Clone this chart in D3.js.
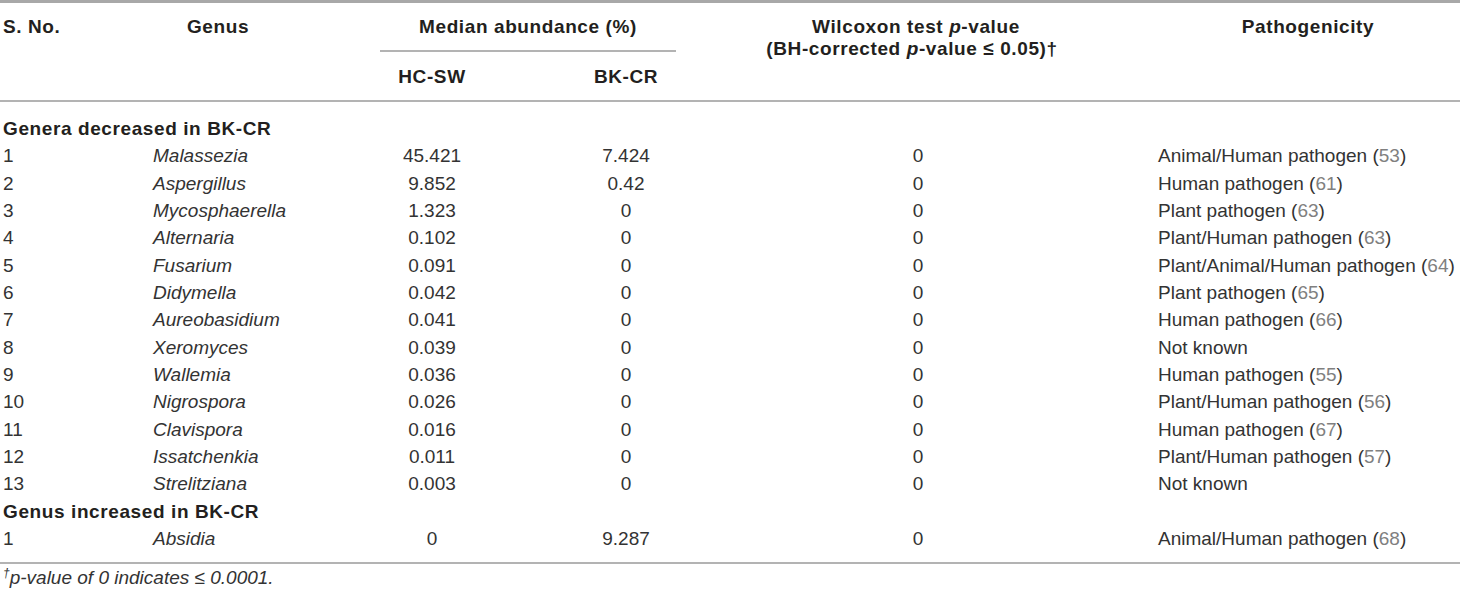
<!DOCTYPE html>
<html>
<head>
<meta charset="utf-8">
<script src="https://cdn.jsdelivr.net/npm/d3@7"></script>
<style>
  body { margin: 0; background: #fff; }
  svg { display: block; font-family: "Liberation Sans", Arial, sans-serif; }
  .hd { font-weight: bold; fill: #231f20; font-size: 19px; letter-spacing: 0.6px; }
  .cell { fill: #333; font-size: 19px; }
  .rule { stroke: #9a9a9a; stroke-width: 1.5; }
</style>
</head>
<body>
<div id="chart"></div>
<script>
// table data
const sNo = ["1","2","3","4","5","6","7","8","9","10","11","12","13","1"];
const genus = ["Malassezia","Aspergillus","Mycosphaerella","Alternaria","Fusarium","Didymella",
  "Aureobasidium","Xeromyces","Wallemia","Nigrospora","Clavispora","Issatchenkia","Strelitziana","Absidia"];
const hcSW = ["45.421","9.852","1.323","0.102","0.091","0.042","0.041","0.039","0.036","0.026","0.016","0.011","0.003","0"];
const bkCR = ["7.424","0.42","0","0","0","0","0","0","0","0","0","0","0","9.287"];
const pValue = ["0","0","0","0","0","0","0","0","0","0","0","0","0","0"];
const pathogenicity = ["Animal/Human pathogen","Human pathogen","Plant pathogen","Plant/Human pathogen",
  "Plant/Animal/Human pathogen","Plant pathogen","Human pathogen","Not known","Human pathogen",
  "Plant/Human pathogen","Human pathogen","Plant/Human pathogen","Not known","Animal/Human pathogen"];
const refs = ["53","61","63","63","64","65","66","","55","56","67","57","","68"];
const sections = ["Genera decreased in BK-CR","Genus increased in BK-CR"];
const sectionStart = [0, 13]; // section header goes before these row indices

const W = 1460, H = 594;
const svg = d3.select("#chart").append("svg").attr("width", W).attr("height", H);
svg.append("rect").attr("width", W).attr("height", H).attr("fill", "#fff");

// build line order: section headers interleaved with data rows
const lines = [];
sNo.forEach((d, i) => {
  const s = sectionStart.indexOf(i);
  if (s >= 0) lines.push({type: "section", key: "s" + s, label: sections[s]});
  lines.push({type: "row", key: "r" + i, i: i});
});

const y = d3.scalePoint().domain(lines.map(d => d.key)).range([135, 545]);

const col = {sno: 3, genus: 153, genusHd: 218, hc: 432, bk: 626, p: 916, path: 1158, pathHd: 1308};

// rules
svg.append("line").attr("x1", 0).attr("x2", W).attr("y1", 1.5).attr("y2", 1.5)
  .attr("stroke", "#a8a8a8").attr("stroke-width", 3);
svg.append("line").attr("class", "rule").attr("x1", 380).attr("x2", 676).attr("y1", 51).attr("y2", 51);
svg.append("line").attr("class", "rule").attr("x1", 0).attr("x2", W).attr("y1", 101).attr("y2", 101);
svg.append("line").attr("class", "rule").attr("x1", 0).attr("x2", W).attr("y1", 563).attr("y2", 563);

// header
const hd = svg.append("g");
hd.append("text").attr("class", "hd").attr("x", col.sno).attr("y", 33).text("S. No.");
hd.append("text").attr("class", "hd").attr("x", col.genusHd).attr("y", 33).attr("text-anchor", "middle").text("Genus");
hd.append("text").attr("class", "hd").attr("x", 528).attr("y", 33).attr("text-anchor", "middle").text("Median abundance (%)");
hd.append("text").attr("class", "hd").attr("x", col.hc).attr("y", 83).attr("text-anchor", "middle").text("HC-SW");
hd.append("text").attr("class", "hd").attr("x", col.bk).attr("y", 83).attr("text-anchor", "middle").text("BK-CR");
const w1 = hd.append("text").attr("class", "hd").attr("x", col.p).attr("y", 33).attr("text-anchor", "middle");
w1.append("tspan").text("Wilcoxon test ");
w1.append("tspan").attr("font-style", "italic").text("p");
w1.append("tspan").text("-value");
const w2 = hd.append("text").attr("class", "hd").attr("x", 912).attr("y", 55).attr("text-anchor", "middle");
w2.append("tspan").text("(BH-corrected ");
w2.append("tspan").attr("font-style", "italic").text("p");
w2.append("tspan").text("-value \u2264 0.05)\u2020");
hd.append("text").attr("class", "hd").attr("x", col.pathHd).attr("y", 33).attr("text-anchor", "middle").text("Pathogenicity");

// body
const g = svg.append("g");
g.selectAll("text.sec").data(lines.filter(d => d.type === "section")).join("text")
  .attr("class", "hd sec").attr("x", col.sno).attr("y", d => y(d.key)).text(d => d.label);

const rows = g.selectAll("g.row").data(lines.filter(d => d.type === "row")).join("g")
  .attr("class", "row").attr("transform", d => `translate(0,${y(d.key)})`);
rows.append("text").attr("class", "cell").attr("x", col.sno).text(d => sNo[d.i]);
rows.append("text").attr("class", "cell").attr("x", col.genus).attr("font-style", "italic").text(d => genus[d.i]);
rows.append("text").attr("class", "cell").attr("x", col.hc).attr("text-anchor", "middle").text(d => hcSW[d.i]);
rows.append("text").attr("class", "cell").attr("x", col.bk).attr("text-anchor", "middle").text(d => bkCR[d.i]);
rows.append("text").attr("class", "cell").attr("x", col.p + 2).attr("text-anchor", "middle").text(d => pValue[d.i]);
const pt = rows.append("text").attr("class", "cell").attr("x", col.path);
pt.append("tspan").text(d => pathogenicity[d.i] + (refs[d.i] ? " (" : ""));
pt.append("tspan").attr("fill", "#808080").text(d => refs[d.i]);
pt.append("tspan").text(d => refs[d.i] ? ")" : "");

// footnote
const fn = svg.append("text").attr("class", "cell").attr("x", col.sno).attr("y", 584).attr("font-style", "italic");
fn.append("tspan").attr("font-size", "12px").attr("dy", -7).text("\u2020");
fn.append("tspan").attr("dy", 7).text("p-value of 0 indicates \u2264 0.0001.");
</script>
</body>
</html>
